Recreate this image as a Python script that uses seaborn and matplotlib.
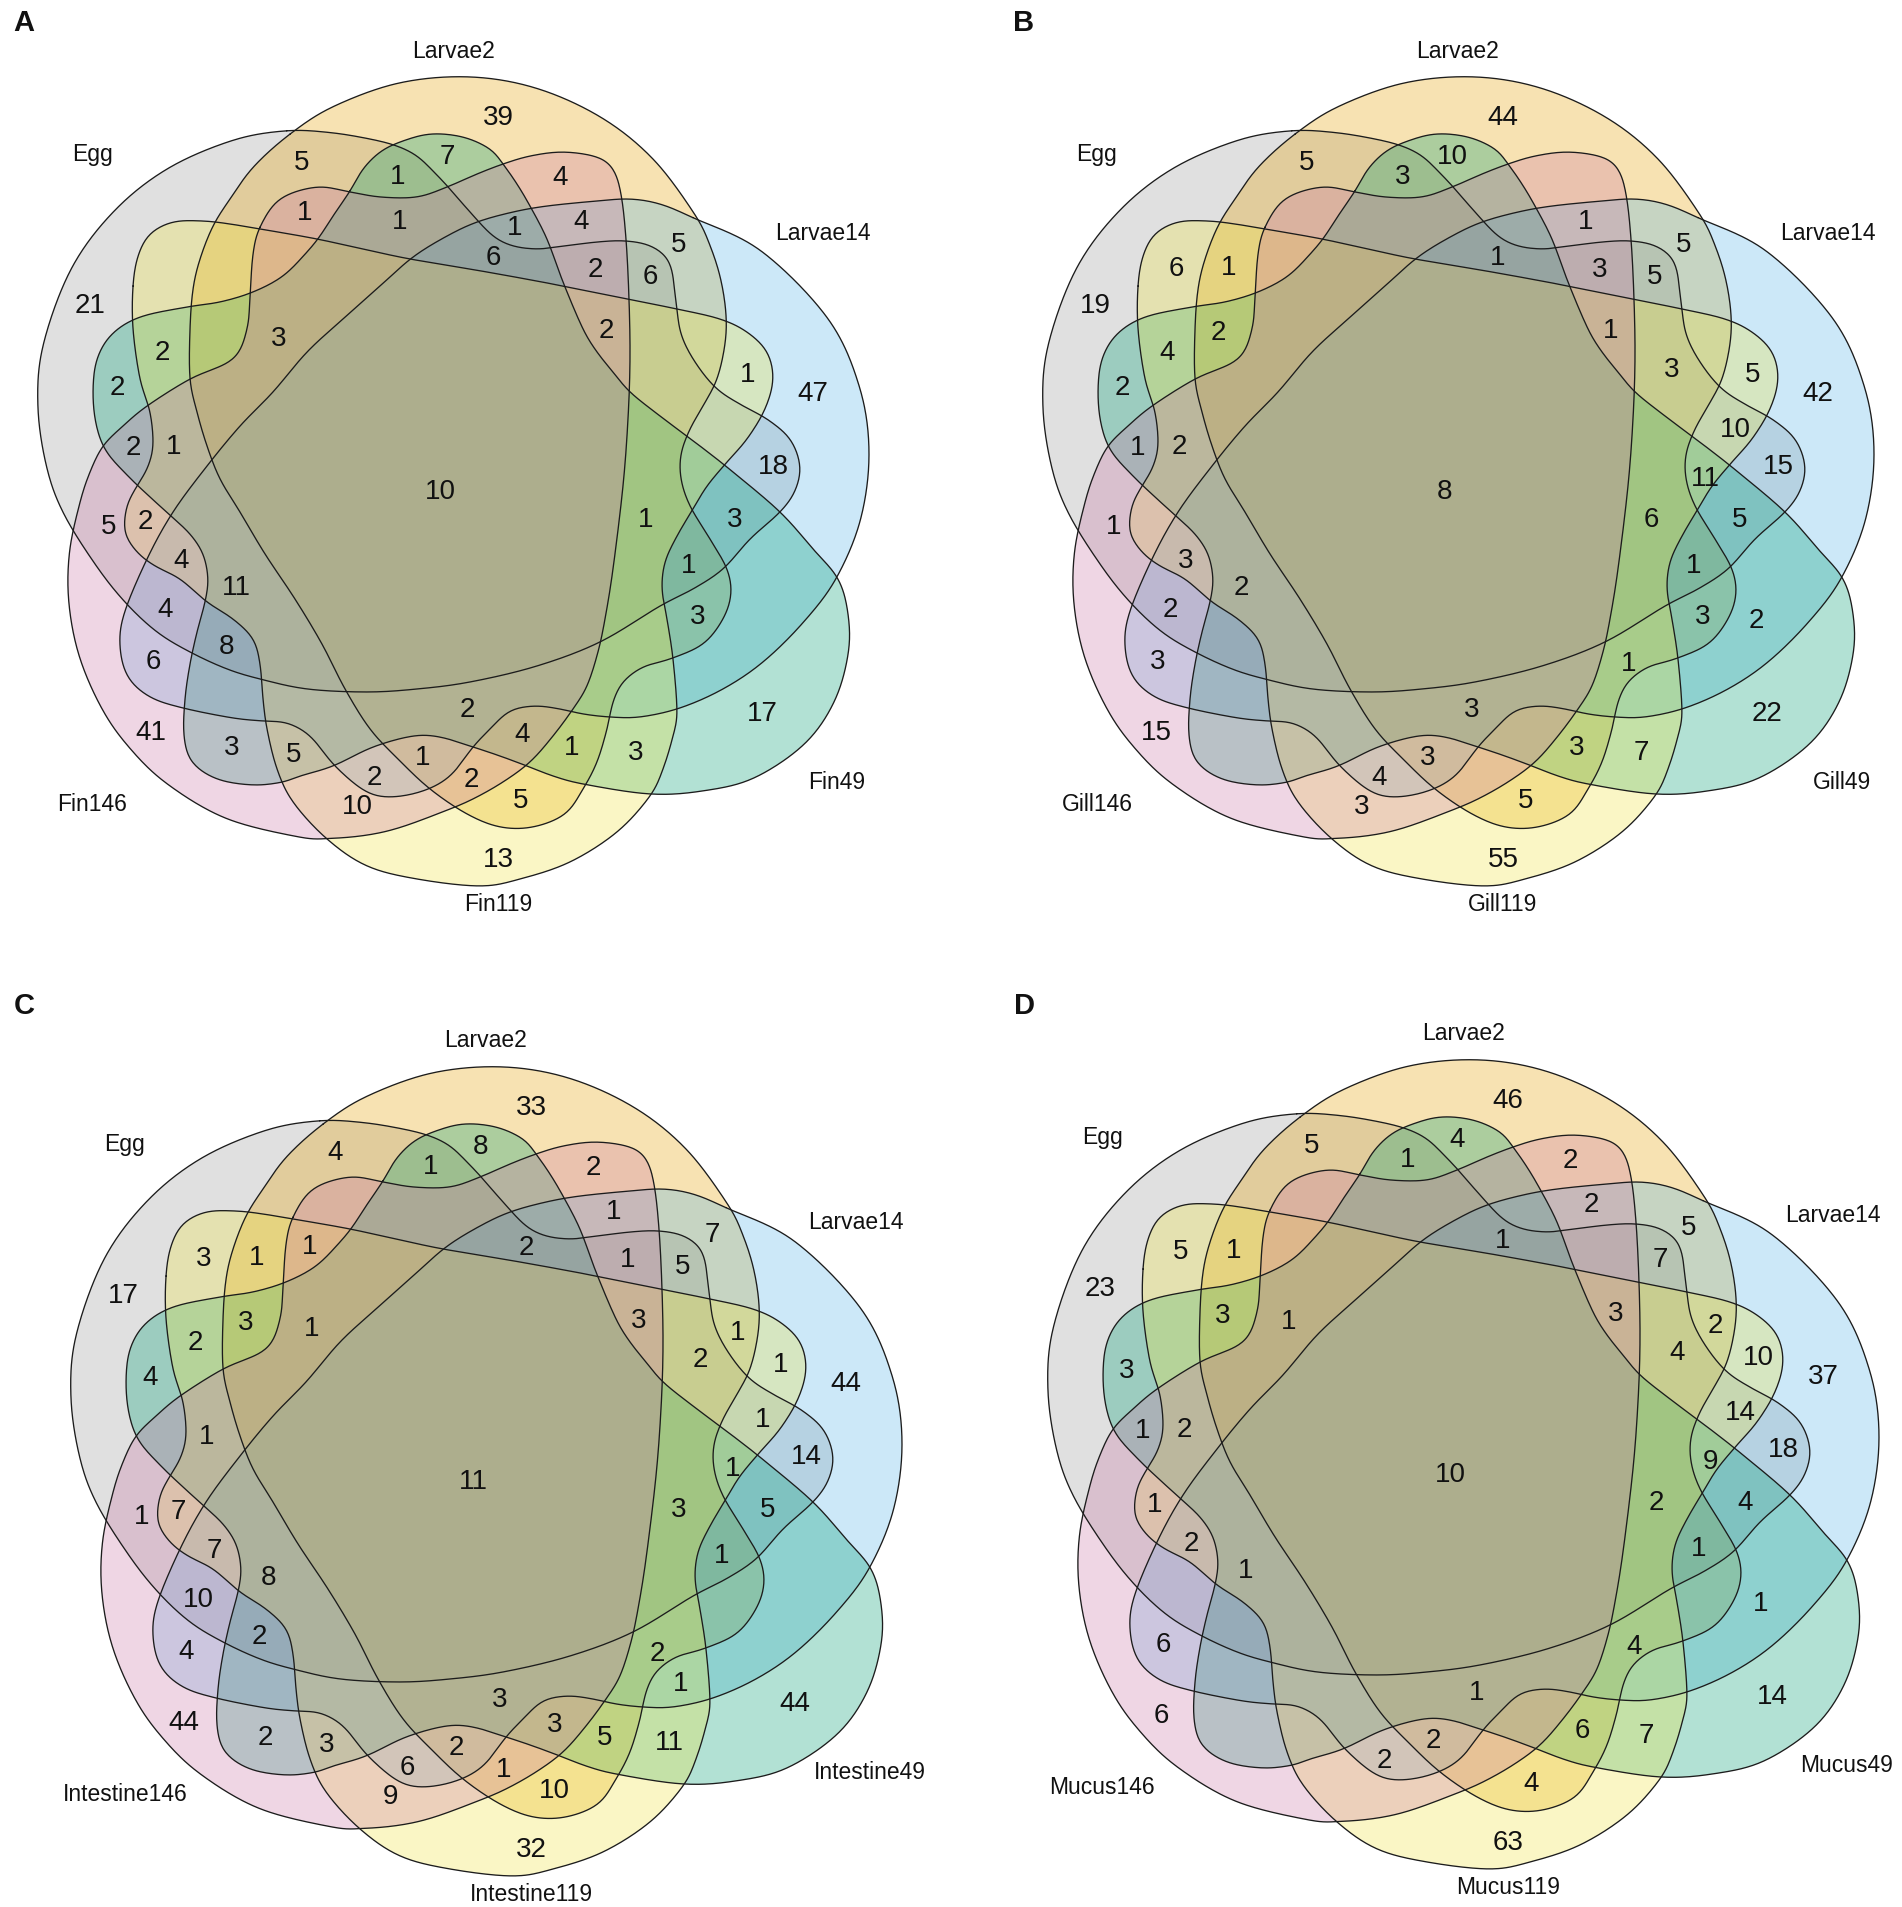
import numpy as np
import matplotlib
matplotlib.use("Agg")
import matplotlib.pyplot as plt
import seaborn as sns

# ---------------- data ----------------
panel_letters = ["A", "B", "C", "D"]
set_names_A = ["Egg", "Larvae2", "Larvae14", "Fin49", "Fin119", "Fin146"]
set_names_B = ["Egg", "Larvae2", "Larvae14", "Gill49", "Gill119", "Gill146"]
set_names_C = ["Egg", "Larvae2", "Larvae14", "Intestine49", "Intestine119", "Intestine146"]
set_names_D = ["Egg", "Larvae2", "Larvae14", "Mucus49", "Mucus119", "Mucus146"]

# region counts (same region order in every panel; 0 = empty region, not printed)
counts_A = [39, 5, 7, 1, 1, 1, 4, 1, 4, 5, 6, 2, 6, 2, 1, 47, 18, 21, 2, 3,
            2, 2, 1, 10, 1, 3, 1, 3, 17, 5, 2, 4, 11, 4, 8, 6, 41, 3, 5, 2,
            4, 1, 3, 2, 1, 2, 5, 10, 13, 0, 0, 0, 0, 0, 0, 0, 0, 0, 0, 0]
counts_B = [44, 5, 10, 3, 0, 0, 0, 0, 1, 5, 1, 3, 5, 1, 5, 42, 15, 19, 4, 0,
            2, 1, 2, 8, 6, 5, 1, 3, 22, 1, 0, 3, 2, 2, 0, 3, 15, 0, 0, 3,
            0, 3, 7, 4, 3, 0, 5, 3, 55, 6, 1, 2, 3, 10, 11, 2, 1, 0, 0, 0]
counts_C = [33, 4, 8, 1, 0, 0, 2, 0, 1, 7, 2, 1, 5, 3, 1, 44, 14, 17, 2, 1,
            4, 0, 1, 11, 3, 5, 1, 0, 44, 1, 7, 7, 8, 10, 2, 4, 44, 2, 3, 3,
            3, 5, 11, 6, 2, 1, 10, 9, 32, 3, 1, 3, 2, 1, 1, 0, 2, 1, 1, 1]
counts_D = [46, 5, 4, 1, 0, 0, 2, 0, 2, 5, 1, 0, 7, 3, 10, 37, 18, 23, 0, 1,
            3, 1, 2, 10, 2, 4, 1, 0, 14, 0, 1, 2, 1, 0, 0, 6, 6, 0, 0, 1,
            0, 6, 7, 2, 2, 0, 4, 0, 63, 5, 1, 3, 4, 14, 9, 1, 4, 0, 2, 0]

# ---------------- layout (diagram template, pixel units of one panel) ----------------
shape_pts = {
    "gray": [(287,135),(233,140),(167,167),(110,207),(67,267),(48,347),(43,407),(50,467),
             (67,513),(97,567),(123,607),(157,633),(190,653),(227,670),(260,680),(307,690),
             (367,693),(417,690),(470,683),(537,667),(600,643),(660,607),(693,590),(723,570),
             (750,540),(780,513),(795,492),(800,467),(790,440),(767,420),(745,408),(717,390),
             (695,363),(681,335),(676,303),(670,265),(653,248),(627,242),(597,243),(557,248),
             (537,250),(513,247),(493,237),(470,213),(450,190),(434,173),(417,157),(397,147),
             (370,140),(330,135)],
    "orange": [(290,135),(333,107),(400,87),(470,80),(537,90),(603,117),(657,157),(693,217),
               (710,247),(720,280),(726,315),(725,345),(717,380),(703,407),(690,430),(681,455),
               (681,480),(690,507),(710,540),(727,570),(731,595),(723,620),(703,645),(670,660),
               (643,668),(623,683),(613,703),(607,730),(597,763),(583,790),(565,815),(533,828),
               (500,828),(467,815),(430,790),(398,760),(370,730),(345,690),(322,645),(295,600),
               (265,555),(240,513),(220,480),(207,447),(197,413),(190,380),(190,330),(193,290),
               (200,260),(213,227),(230,200),(253,167)],
    "blue": [(693,218),(760,253),(827,320),(860,387),(870,453),(860,520),(837,580),(803,623),
             (763,663),(723,690),(680,709),(640,718),(610,718),(583,715),(560,710),(535,707),
             (510,712),(490,730),(473,748),(450,777),(423,792),(390,798),(365,792),(335,767),
             (310,737),(287,724),(263,722),(233,719),(183,709),(150,698),(128,678),(120,648),
             (124,615),(147,560),(173,513),(207,467),(240,427),(273,393),(307,353),(343,320),
             (380,287),(413,258),(447,237),(477,223),(513,213),(547,207),(597,202),(630,200),
             (660,205)],
    "teal": [(350,192),(363,170),(380,153),(400,143),(430,135),(463,138),(490,150),(503,165),
             (517,185),(530,207),(547,240),(563,283),(583,330),(597,353),(613,373),(630,393),
             (660,417),(700,447),(733,473),(780,513),(813,550),(837,580),(850,613),(848,653),
             (837,703),(803,743),(753,777),(703,793),(650,795),(583,785),(553,777),(527,767),
             (500,757),(473,748),(440,738),(413,737),(373,748),(333,767),(300,777),(283,783),
             (253,786),(217,780),(192,763),(184,737),(185,700),(190,665),(197,633),(205,603),
             (208,580),(203,555),(190,535),(172,518),(150,498),(128,477),(106,452),(96,425),
             (93,392),(97,360),(112,335),(140,318),(187,308),(220,303),(253,293),(283,277),
             (307,253),(320,237),(333,217)],
    "yellow": [(133,287),(133,330),(140,380),(150,413),(153,447),(147,470),(137,487),(127,507),
               (125,533),(137,553),(155,567),(180,580),(207,603),(233,620),(253,640),(260,665),
               (263,700),(267,730),(277,770),(293,803),(327,840),(367,867),(417,880),(480,887),
               (520,880),(570,863),(617,833),(650,797),(663,770),(673,737),(677,713),(673,660),
               (667,620),(662,590),(665,563),(677,537),(693,510),(707,487),(727,463),(747,440),
               (765,410),(773,380),(767,353),(747,333),(720,320),(677,310),(627,300),(563,287),
               (487,273),(410,260),(363,250),(317,240),(272,232),(230,225),(203,222),(173,223),
               (150,235),(138,257)],
    "pink": [(260,228),(280,200),(317,188),(350,193),(380,198),(417,198),(447,188),(477,175),
             (503,165),(530,157),(563,153),(597,158),(613,170),(621,195),(626,240),(629,300),
             (630,360),(628,420),(623,487),(613,570),(605,620),(598,653),(587,687),(573,710),
             (553,737),(530,763),(503,783),(473,800),(447,813),(400,827),(367,835),(330,840),
             (300,837),(227,817),(167,783),(127,747),(97,710),(77,657),(70,603),(72,553),
             (80,503),(90,473),(103,447),(123,427),(147,407),(190,380),(233,360),(247,330),
             (250,297),(253,255)],
}
# control points lying on each shape's outer (head) arc
head_idx = {
    "gray": [49, 0, 1, 2, 3, 4, 5, 6, 7, 8, 9, 10],
    "orange": [51, 0, 1, 2, 3, 4, 5, 6, 7, 8, 9],
    "blue": [0, 1, 2, 3, 4, 5, 6, 7],
    "teal": [21, 22, 23, 24, 25, 26, 27],
    "yellow": [],
    "pink": [28, 29, 30, 31, 32, 33, 34, 35, 36, 37, 38, 39, 40],
}
shape_order = ["gray", "orange", "blue", "teal", "yellow", "pink"]

region_xy = [(498,118),(302,163),(447,157),(398,177),(305,213),(400,222),(560,178),(515,228),
             (581,222),(679,245),(493,258),(595,270),(650,277),(606,331),(748,375),(813,394),
             (773,467),(90,306),(162,353),(279,339),(117,388),(133,448),(174,447),(440,492),
             (646,520),(735,520),(689,566),(698,617),(762,714),(109,527),(145,522),(181,561),
             (236,588),(165,610),(226,647),(153,662),(151,733),(232,748),(294,755),(467,710),
             (522,735),(572,748),(636,753),(374,778),(423,758),(471,780),(521,801),(357,807),
             (498,860),(171,269),(224,268),(213,333),(667,370),(730,430),(700,479),(751,621),
             (624,664),(277,257),(705,343),(648,694)]
setname_xy = [(92,155),(453,51),(823,233),(837,783),(498,905),(92,805)]
panel_offsets = [(0,0),(1005,0),(33,990),(1010,983)]
letter_xy = [(24,23),(1024,23),(24,1006),(1024,1006)]

# ---------------- style ----------------
sns.set_theme(style="white")
plt.rcParams["font.family"] = ["Liberation Sans", "DejaVu Sans"]
palette = sns.color_palette(["#999999", "#E69F00", "#56B4E9", "#009E73", "#F0E442", "#CC79A7"])


def fit_circle(P):
    x, y = P[:, 0], P[:, 1]
    A = np.c_[2 * x, 2 * y, np.ones(len(x))]
    c = np.linalg.lstsq(A, x ** 2 + y ** 2, rcond=None)[0]
    cx, cy = c[0], c[1]
    return cx, cy, np.sqrt(c[2] + cx ** 2 + cy ** 2)


def snap_head(pts, idx):
    P = np.asarray(pts, dtype=float).copy()
    if len(idx) < 4:
        return P
    cx, cy, r = fit_circle(P[idx])
    for j, i in enumerate(idx):
        d = P[i] - (cx, cy)
        on = np.array([cx, cy]) + r * d / np.hypot(*d)
        w = 0.5 if j in (0, len(idx) - 1) else 1.0
        P[i] = (1 - w) * P[i] + w * on
    return P


def smooth_closed(P, n=14, step=2.0, win=9):
    N = len(P)
    t = np.linspace(0, 1, n, endpoint=False)[:, None]
    segs = []
    for i in range(N):
        p0, p1, p2, p3 = P[i - 1], P[i], P[(i + 1) % N], P[(i + 2) % N]
        segs.append(0.5 * (2 * p1 + (-p0 + p2) * t + (2 * p0 - 5 * p1 + 4 * p2 - p3) * t ** 2
                           + (-p0 + 3 * p1 - 3 * p2 + p3) * t ** 3))
    c = np.vstack(segs)
    c = np.vstack([c, c[:1]])
    s = np.r_[0, np.cumsum(np.hypot(*np.diff(c, axis=0).T))]
    m = int(s[-1] / step)
    su = np.linspace(0, s[-1], m, endpoint=False)
    u = np.c_[np.interp(su, s, c[:, 0]), np.interp(su, s, c[:, 1])]
    k = np.ones(win) / win
    pad = win // 2
    ue = np.vstack([u[-pad:], u, u[:pad]])
    sm = np.c_[np.convolve(ue[:, 0], k, "valid"), np.convolve(ue[:, 1], k, "valid")]
    return np.vstack([sm, sm[:1]])


template = [smooth_closed(snap_head(shape_pts[k], head_idx[k])) for k in shape_order]

fig = plt.figure(figsize=(19.02, 19.08), dpi=100)
ax = fig.add_axes([0, 0, 1, 1])
ax.set_xlim(0, 1902)
ax.set_ylim(1908, 0)
ax.axis("off")

panels = [(set_names_A, counts_A), (set_names_B, counts_B),
          (set_names_C, counts_C), (set_names_D, counts_D)]

for p, (names, counts) in enumerate(panels):
    ox, oy = panel_offsets[p]
    curves = [c + np.array([ox, oy]) for c in template]
    for c, col in zip(curves, palette):
        ax.fill(c[:, 0], c[:, 1], color=col, alpha=0.3, lw=0)
    for c in curves:
        ax.plot(c[:, 0], c[:, 1], color="#1c1c1c", lw=0.95)
    for (x, y), v in zip(region_xy, counts):
        if v:
            ax.text(x + ox, y + oy, str(v), ha="center", va="center", fontsize=20, color="#111111")
    for (x, y), nm in zip(setname_xy, names):
        ax.text(x + ox, y + oy, nm, ha="center", va="center", fontsize=16.5, color="#111111")
    lx, ly = letter_xy[p]
    ax.text(lx, ly, panel_letters[p], ha="center", va="center", fontsize=21,
            fontweight="bold", color="#111111")

fig.savefig("out.png", dpi=100)
